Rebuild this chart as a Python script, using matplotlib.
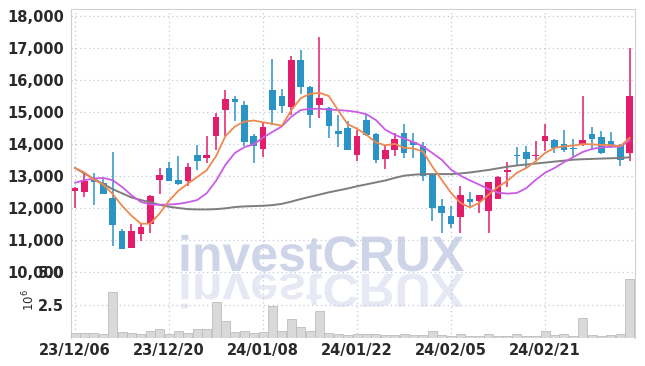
import matplotlib
matplotlib.use("Agg")
import matplotlib.pyplot as plt
import numpy as np
from matplotlib.textpath import TextPath
from matplotlib.patches import PathPatch
from matplotlib.font_manager import FontProperties
from matplotlib.transforms import Affine2D

# daily candles, 2023-12-06 .. 2024-03-05 (60 trading days)
opens = [12520, 12490, 12890, 12770, 12300, 11290, 10740, 11180, 11500, 12870,
         13260, 12890, 12840, 13650, 13550, 14240, 15050, 15420, 15230, 14260,
         13840, 15700, 15510, 15150, 16640, 15790, 15210, 15140, 14420, 14490,
         13650, 14760, 14320, 13530, 13800, 14340, 14060, 13930, 13070, 12070,
         11740, 11720, 12270, 12210, 11900, 12280, 13130, 13650, 13740, 13620,
         14080, 14140, 14010, 13880, 13980, 14320, 14210, 14100, 13980, 13720]
highs = [12650, 13140, 13090, 12910, 13760, 11340, 11500, 11500, 12420, 13250,
         13430, 13630, 13420, 13980, 14250, 14970, 15690, 15500, 15350, 14310,
         14680, 16660, 15720, 16740, 16950, 15800, 17340, 15160, 14920, 14710,
         14430, 14920, 14330, 13960, 14340, 14640, 14340, 14050, 13080, 12280,
         12070, 12700, 12490, 12420, 12820, 12990, 13430, 13910, 13950, 14080,
         14630, 14160, 14450, 14160, 15510, 14530, 14420, 14380, 14010, 17000]
lows = [12000, 12330, 12090, 12430, 10800, 10710, 10740, 10980, 11210, 12440,
        12850, 12730, 12690, 13200, 13410, 13820, 14240, 14720, 13930, 13410,
        13580, 14600, 14970, 14920, 15570, 14500, 14810, 14190, 13910, 13800,
        13460, 14240, 13410, 13220, 13620, 13560, 13560, 12830, 11580, 11220,
        11380, 11220, 12000, 11840, 11220, 12280, 12660, 13300, 13250, 13510,
        13770, 13720, 13740, 13560, 13930, 13820, 13700, 13880, 13320, 13460]
closes = [12630, 12850, 12800, 12430, 11480, 10710, 11290, 11420, 12390, 13040,
          12850, 12750, 13280, 13460, 13650, 14850, 15420, 15320, 14050, 13930,
          14520, 15050, 15180, 16640, 15770, 14920, 15440, 14550, 14320, 13800,
          14260, 14290, 13490, 13820, 14170, 13720, 13960, 13010, 12000, 11840,
          11510, 12420, 12190, 12420, 12810, 12970, 13180, 13620, 13530, 13670,
          14240, 13880, 13800, 13840, 14140, 14170, 13720, 13900, 13510, 15490]
volume_m = [0.32, 0.32, 0.32, 0.25, 3.5, 0.42, 0.33, 0.25, 0.49, 0.65,
            0.25, 0.49, 0.35, 0.66, 0.66, 2.72, 1.25, 0.42, 0.5, 0.34,
            0.42, 2.38, 0.5, 1.4, 0.8, 0.5, 2.0, 0.34, 0.25, 0.17,
            0.25, 0.25, 0.25, 0.17, 0.17, 0.25, 0.17, 0.17, 0.5, 0.17,
            0.08, 0.25, 0.08, 0.08, 0.25, 0.08, 0.08, 0.25, 0.08, 0.08,
            0.5, 0.17, 0.25, 0.08, 1.48, 0.17, 0.08, 0.17, 0.25, 4.48]
ma_short = [13250, 13110, 12890, 12730, 12440, 12070, 11760, 11510, 11510, 11830,
            12230, 12540, 12760, 12970, 13180, 13620, 14250, 14545, 14700, 14735,
            14680, 14630, 14570, 15050, 15430, 15570, 15600, 15500, 15050, 14620,
            14480, 14290, 14050, 13960, 14005, 13880, 13860, 13770, 13300, 12885,
            12470, 12160, 12020, 12160, 12420, 12660, 12850, 13100, 13250, 13460,
            13720, 13875, 13930, 13950, 14000, 13990, 13970, 13970, 13930, 14190]
ma_mid = [12790, 12870, 12920, 12940, 12870, 12660, 12400, 12190, 12110, 12100,
          12110, 12130, 12180, 12250, 12460, 12850, 13350, 13720, 13900, 13990,
          14200, 14380, 14550, 14850, 15060, 15100, 15100, 15080, 15060, 15040,
          15000, 14930, 14750, 14450, 14290, 14170, 14060, 13930, 13720, 13510,
          13200, 13010, 12865, 12730, 12590, 12480, 12450, 12470, 12620, 12880,
          13100, 13250, 13430, 13590, 13750, 13845, 13895, 13915, 13915, 14115]
ma_long = [13250, 13080, 12910, 12750, 12590, 12460, 12330, 12250, 12180, 12100,
           12040, 12000, 11965, 11955, 11955, 11965, 11990, 12030, 12050, 12060,
           12070, 12090, 12130, 12200, 12280, 12350, 12420, 12490, 12550, 12610,
           12680, 12740, 12800, 12860, 12940, 13010, 13040, 13060, 13060, 13060,
           13060, 13080, 13110, 13150, 13190, 13240, 13290, 13330, 13360, 13390,
           13420, 13450, 13480, 13510, 13525, 13535, 13545, 13555, 13565, 13585]
date_ticks = [0, 10, 20, 30, 40, 50]
date_labels = ['23/12/06', '23/12/20', '24/01/08', '24/01/22', '24/02/05', '24/02/21']

UP = '#e31c6c'
DOWN = '#2c93c6'
GRID = '#c3c8dc'
TXT = '#2a2a2a'

plt.rcParams['font.family'] = ['Liberation Sans Narrow', 'DejaVu Sans']
plt.rcParams['font.weight'] = 'bold'

W, H = 645, 366
fig = plt.figure(figsize=(W / 100, H / 100), dpi=100)
ax = fig.add_axes([71 / W, 1 - 272 / H, 564 / W, 263 / H])
axv = fig.add_axes([71 / W, 1 - 337.5 / H, 564 / W, 65.5 / H], sharex=ax)
for a in (ax, axv):
    a.set_facecolor('none')

# watermark with reflection, behind the axes
fp = FontProperties(family='Liberation Sans', weight='bold')
tp = TextPath((0, 0), 'investCRUX', size=50, prop=fp)
wx, wy = 178, H - 271
fig.add_artist(PathPatch(tp, transform=Affine2D().translate(wx, wy),
                         facecolor='#cfd5e9', edgecolor='none', zorder=-2))
fig.add_artist(PathPatch(tp, transform=Affine2D().scale(1, -0.95).translate(wx, wy - 3),
                         facecolor='#e6e9f3', edgecolor='none', zorder=-2))

x = np.arange(len(closes))
o = np.array(opens)
c = np.array(closes)
cols = [UP if cc >= oo else DOWN for oo, cc in zip(o, c)]
body_lo = np.minimum(o, c)
body_h = np.maximum(np.abs(c - o), 25)

ax.vlines(x, lows, highs, colors=cols, linewidth=1.1, zorder=2)
ax.bar(x, body_h, bottom=body_lo, width=0.7, color=cols, zorder=3)

ax.plot(x, ma_long, color='#7d7d7d', lw=1.4, zorder=4)
ax.plot(x, ma_mid, color='#c95ce6', lw=1.3, zorder=4)
ax.plot(x, ma_short, color='#ee8a4f', lw=1.3, zorder=5)

ax.set_xlim(-0.43, 59.57)
ax.set_ylim(10000, 18220)
ax.set_yticks(range(10000, 18001, 1000))
ax.set_yticklabels(['{:,}'.format(v) for v in range(10000, 18001, 1000)])
ax.grid(True, color=GRID, linestyle=(0, (1, 2.5)), linewidth=0.9)
ax.tick_params(axis='both', length=0, labelsize=10.5, colors=TXT, pad=5)
ax.tick_params(axis='x', labelbottom=False)
for s in ('left', 'right', 'top'):
    ax.spines[s].set_color('#d0d0d0')
ax.spines['bottom'].set_visible(False)

axv.bar(x, volume_m, width=0.95, color='#d9d9d9', edgecolor='#bdbdbd', linewidth=0.6, zorder=3)
axv.set_ylim(0, 5.0)
axv.set_yticks([2.5, 5.0])
axv.set_yticklabels(['2.5', '5.0'])
axv.set_xticks(date_ticks)
axv.set_xticklabels(date_labels)
axv.grid(True, color=GRID, linestyle=(0, (1, 2.5)), linewidth=0.9)
axv.tick_params(axis='both', length=0, labelsize=10.5, colors=TXT, pad=5)
axv.tick_params(axis='x', pad=4)
for s in ('left', 'right'):
    axv.spines[s].set_color('#d0d0d0')
axv.spines['top'].set_visible(False)
axv.spines['bottom'].set_visible(False)

fig.text(29 / W, 1 - 300 / H, r'$\mathregular{10^6}$', rotation=90, ha='center', va='center',
         fontsize=8.5, color=TXT, family='DejaVu Sans', weight='normal')

fig.savefig('out.png', dpi=100)
